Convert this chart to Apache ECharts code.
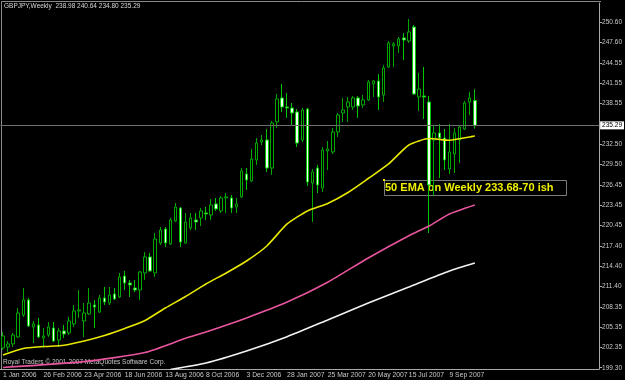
<!DOCTYPE html>
<html>
<head>
<meta charset="utf-8">
<script src="https://cdn.jsdelivr.net/npm/echarts@6/dist/echarts.min.js"></script>
<style>
html, body { margin: 0; padding: 0; background: #000; }
#chart { width: 625px; height: 380px; }
</style>
</head>
<body>
<div id="chart"></div>
<script>
// GBPJPY weekly candles (week 0 = 1 Jan 2006)
var opens = [202.23,202.38,202.83,203.87,207.13,209.36,205.35,205.65,203.72,204.16,
  205.20,203.42,204.76,204.46,205.80,207.73,206.24,207.28,208.62,207.58,
  209.66,208.91,210.25,209.81,212.92,211.88,211.14,210.84,213.37,215.75,
  213.37,217.82,219.90,217.68,221.09,223.02,217.82,220.05,221.24,221.54,
  222.28,221.98,223.62,222.58,224.51,224.51,223.17,224.66,228.07,227.03,
  230.15,232.82,233.12,228.96,235.79,239.36,238.02,237.87,237.28,233.12,
  237.72,226.73,228.96,225.99,231.49,231.34,234.31,237.13,238.02,238.02,
  239.36,238.32,239.06,241.44,241.88,239.80,243.96,247.08,247.08,248.27,
  247.82,249.90,239.51,239.65,238.76,233.12,234.16,233.42,228.81,231.04,
  233.12,234.75,238.76,238.98];
var highs = [204.61,203.27,204.46,208.17,211.14,209.66,206.24,206.69,205.20,206.09,
  206.09,205.20,205.65,206.84,208.62,210.84,208.91,211.14,209.36,210.10,
  211.29,211.29,211.14,213.37,213.67,212.33,212.33,213.67,216.49,216.34,
  219.31,220.20,220.20,221.54,223.76,223.17,222.28,222.28,222.28,223.02,
  223.17,224.36,224.51,224.80,225.25,224.95,224.51,228.96,228.96,231.78,
  233.42,233.86,234.75,235.94,239.95,241.44,240.10,238.61,237.72,237.87,
  237.87,228.81,229.41,232.08,232.97,234.90,237.13,239.36,239.51,239.65,
  239.65,239.80,242.03,242.03,242.92,244.26,247.82,247.67,248.42,249.01,
  251.09,250.20,243.07,243.96,239.65,235.35,235.50,234.75,235.50,234.90,
  235.20,238.91,240.25,240.64];
var lows = [201.93,201.64,202.38,203.72,206.84,205.35,202.97,203.72,202.23,203.87,
  203.12,202.38,203.72,204.16,205.35,206.69,203.87,207.13,205.20,207.43,
  208.62,208.62,209.36,209.66,210.84,209.81,210.55,209.36,212.33,213.52,
  212.78,217.53,217.23,217.53,220.94,217.23,217.68,219.75,219.75,220.35,
  221.24,221.24,222.58,222.28,222.28,222.28,222.28,224.51,225.69,226.88,
  229.41,232.38,228.37,227.92,234.90,237.28,236.39,235.35,232.08,232.82,
  226.29,220.94,225.25,225.40,228.66,231.04,233.57,235.79,235.79,237.57,
  236.39,237.87,238.91,239.51,237.57,238.76,243.81,243.96,246.04,245.00,
  247.52,239.80,237.43,236.24,219.31,224.80,227.48,228.66,228.07,228.22,
  229.70,234.60,236.83,234.80];
var closes = [204.01,202.83,204.16,207.43,209.36,205.50,205.80,203.87,204.01,205.35,
  203.27,204.76,204.31,206.24,207.73,207.87,207.43,208.91,208.32,209.66,
  209.06,210.10,209.51,212.78,211.88,211.59,210.84,213.52,215.75,213.67,
  218.42,219.75,217.82,221.24,223.17,217.97,220.94,221.54,220.94,222.58,
  222.13,223.47,222.87,224.51,224.66,223.02,223.62,228.52,227.18,230.30,
  232.67,233.12,228.96,235.64,239.21,238.02,237.87,237.13,232.67,237.57,
  226.88,228.37,226.44,231.63,231.78,234.31,236.83,237.57,238.76,239.36,
  238.17,239.06,241.73,241.88,239.51,243.81,247.52,247.38,248.12,247.97,
  249.16,239.95,240.69,239.51,226.44,234.16,233.42,230.15,231.34,234.16,
  235.05,238.61,239.36,235.29];

// moving averages, sampled at these week indexes
var ema50Idx = [0,4,8,12,16,20,24,28,32,36,40,44,48,52,56,60,64,68,72,76,80,84,88,92,93];
var ema50 = [201.19,202.16,202.44,202.63,203.27,204.09,205.13,206.32,208.17,209.88,
  211.74,213.37,215.15,217.38,220.65,222.58,223.69,225.32,227.40,229.56,
  232.38,233.34,233.08,233.57,233.71];
var ema100Idx = [0,16,28,36,40,48,56,64,72,80,84,88,93];
var ema100 = [199.34,200.20,201.56,203.67,204.61,206.70,209.05,212.00,215.60,218.90,220.35,222.13,223.47];
var ema200Idx = [33,40,48,56,64,72,80,88,93];
var ema200 = [199.04,200.00,201.79,203.91,206.39,208.91,211.29,213.67,214.85];

var dateLabels = ['1 Jan 2006','26 Feb 2006','23 Apr 2006','18 Jun 2006','13 Aug 2006','8 Oct 2006',
  '3 Dec 2006','28 Jan 2007','25 Mar 2007','20 May 2007','15 Jul 2007','9 Sep 2007'];
var priceTicks = [199.30,202.35,205.35,208.35,211.40,214.40,217.40,220.45,223.45,226.45,
  229.50,232.50,238.55,241.55,244.55,247.60,250.60];
var lastPrice = 235.29;

var weeks = [];
for (var i = 0; i < 118; i++) weeks.push(String(i));

var candles = [];
for (var i = 0; i < opens.length; i++) {
  candles.push([opens[i], closes[i], lows[i], highs[i]]);
}

function pairs(idx, vals) {
  return idx.map(function (k, j) { return [k, vals[j]]; });
}

function isDateTick(idx) {
  return idx % 8 === 0 && idx / 8 < dateLabels.length;
}

var myChart = echarts.init(document.getElementById('chart'));

var option = {
  backgroundColor: '#000',
  animation: false,
  grid: { left: -1, right: 24, top: 3, bottom: 11 },
  xAxis: {
    type: 'category',
    data: weeks,
    boundaryGap: true,
    axisLine: { lineStyle: { color: '#a8a8a8', width: 1 } },
    axisTick: { interval: isDateTick, alignWithLabel: true, length: 3, lineStyle: { color: '#a8a8a8' } },
    axisLabel: {
      interval: isDateTick,
      align: 'left',
      margin: 3,
      color: '#c8c8c8',
      fontFamily: 'Liberation Sans',
      fontSize: 6.8,
      formatter: function (v, idx) { return dateLabels[idx / 8] || ''; }
    },
    splitLine: { show: false }
  },
  yAxis: {
    type: 'value',
    position: 'right',
    min: 199.11,
    max: 253.46,
    scale: true,
    axisLine: { show: true, lineStyle: { color: '#a8a8a8', width: 1 } },
    axisTick: { show: true, length: 3, customValues: priceTicks, lineStyle: { color: '#a8a8a8' } },
    axisLabel: {
      customValues: priceTicks,
      margin: 3,
      color: '#c8c8c8',
      fontFamily: 'Liberation Sans',
      fontSize: 6.5,
      formatter: function (v) { return v.toFixed(2); }
    },
    splitLine: { show: false }
  },
  series: [
    {
      name: 'GBPJPY',
      type: 'candlestick',
      data: candles,
      barWidth: 3,
      itemStyle: {
        color: '#000',
        color0: '#f2fff2',
        borderColor: '#00a800',
        borderColor0: '#00c800',
        borderWidth: 1
      },
      markLine: {
        silent: true,
        symbol: 'none',
        lineStyle: { color: '#6e6e6e', width: 1, type: 'solid' },
        label: {
          show: true,
          position: 'end',
          distance: 1,
          formatter: lastPrice.toFixed(2),
          backgroundColor: '#fff',
          color: '#000',
          fontFamily: 'Liberation Sans',
          fontSize: 6.5,
          padding: [1, 2, 0, 2]
        },
        data: [{ yAxis: lastPrice }]
      }
    },
    {
      name: 'EMA50',
      type: 'line',
      data: pairs(ema50Idx, ema50),
      showSymbol: false,
      smooth: 0.2,
      lineStyle: { color: '#e8e800', width: 1.6 }
    },
    {
      name: 'EMA100',
      type: 'line',
      data: pairs(ema100Idx, ema100),
      showSymbol: false,
      smooth: 0.2,
      lineStyle: { color: '#e8559e', width: 1.6 }
    },
    {
      name: 'EMA200',
      type: 'line',
      data: pairs(ema200Idx, ema200),
      showSymbol: false,
      smooth: 0.2,
      lineStyle: { color: '#f2f2f2', width: 1.6 }
    }
  ],
  graphic: [
    { type: 'line', shape: { x1: 1.5, y1: 1.5, x2: 601, y2: 1.5 }, style: { stroke: '#8a8a8a', lineWidth: 1 } },
    { type: 'line', shape: { x1: 1.5, y1: 1.5, x2: 1.5, y2: 369 }, style: { stroke: '#8a8a8a', lineWidth: 1 } },
    {
      type: 'text', left: 4, top: 3,
      style: { text: 'GBPJPY,Weekly  238.98 240.64 234.80 235.29', fill: '#d8d8d8', font: '6.5px "Liberation Sans"' }
    },
    {
      type: 'text', left: 3, top: 359,
      style: { text: 'Royal Traders © 2001-2007 MetaQuotes Software Corp.', fill: '#c8c8c8', font: '6.5px "Liberation Sans"' }
    },
    { type: 'rect', shape: { x: 384.5, y: 180.5, width: 182, height: 15 }, style: { fill: '#000', stroke: '#7a7a7a', lineWidth: 1 } },
    { type: 'rect', shape: { x: 383, y: 179, width: 2, height: 2 }, style: { fill: '#e8e800' } },
    {
      type: 'text', left: 385, top: 182,
      style: { text: '50 EMA on Weekly 233.68-70 ish', fill: '#f0f000', font: 'bold 11px "Liberation Sans"' }
    }
  ]
};

myChart.setOption(option);
</script>
</body>
</html>
